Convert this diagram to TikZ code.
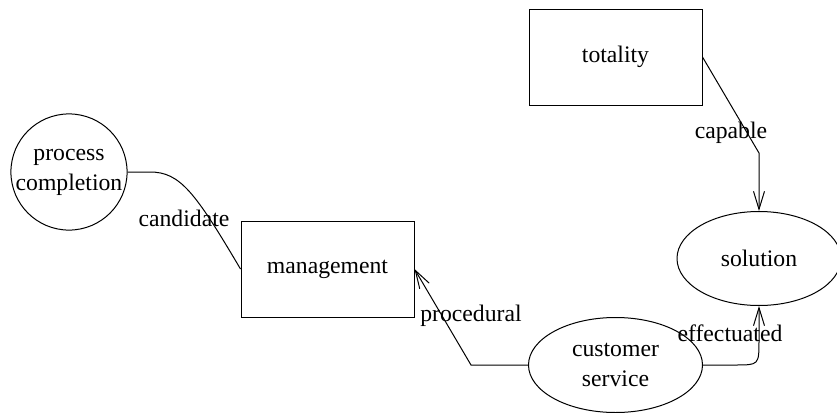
\documentclass[tikz,border=0pt]{standalone}
\usepackage{fontspec}
\setmainfont{Liberation Serif}
\usetikzlibrary{shapes.geometric,arrows.meta}
\begin{document}
\begin{tikzpicture}[x=0.5pt,y=-0.5pt,
  every node/.style={font=\fontsize{11.85}{15}\selectfont, inner sep=0pt},
  box/.style={draw, line width=0.5pt, rectangle, minimum width=86.5pt, minimum height=48pt},
  oval/.style={draw, line width=0.5pt, ellipse},
  conn/.style={draw, line width=0.5pt},
  arr/.style={conn, -{Straight Barb[length=9pt,width=5.5pt,line width=0.5pt]}},
  lbl/.style={fill=none}]
\useasboundingbox (0,0) rectangle (837,413);
\node[draw, line width=0.5pt, circle, minimum size=57pt, align=center] (pc) at (69,172) {process\\completion};
\node[box] (mg) at (327.5,269) {management};
\node[box] (tot) at (615.5,57) {totality};
\node[oval, minimum width=82pt, minimum height=47pt] (sol) at (759,258.5) {solution};
\node[oval, minimum width=87pt, minimum height=47.5pt, align=center] (cs) at (615.5,365) {customer\\service};
\coordinate (c1) at (150,172);
\coordinate (p1) at (471,365);
\coordinate (k1) at (759,153);
\coordinate (e1) at (735,365);
\coordinate (e2) at (759,340);
\draw[conn] (pc.east) -- (c1) .. controls (180,172) and (195,192) .. (mg.west);
\draw[arr] (cs.west) -- (p1) -- (mg.east);
\draw[arr] (tot.east) -- (k1) -- (sol.north);
\draw[arr] (cs.east) -- (e1) .. controls (759,365) .. (e2) -- (sol.south);
\node[lbl] (lc) at (184,218) {candidate};
\node[lbl] (lp) at (471,316) {procedural};
\node[lbl] (lk) at (731,133) {capable};
\node[lbl] (le) at (730,333) {effectuated};
\end{tikzpicture}
\end{document}
